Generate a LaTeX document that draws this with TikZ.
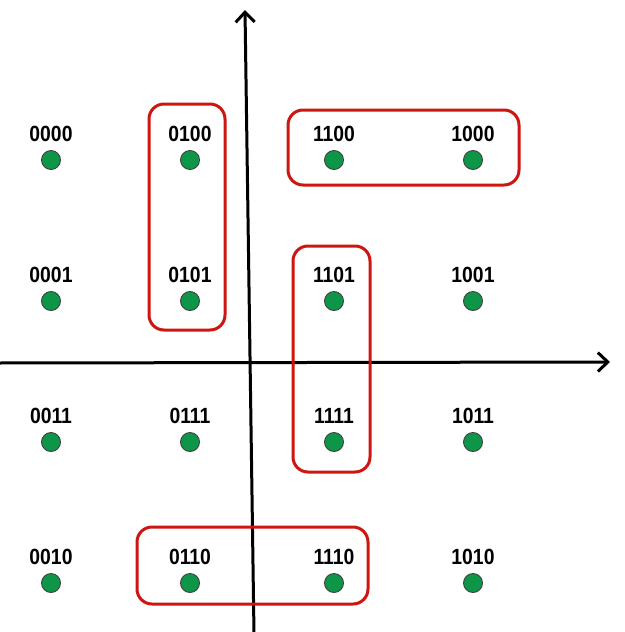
\documentclass[tikz,border=0pt]{standalone}
\usepackage{fontspec}
\setmainfont{Liberation Sans}
\usetikzlibrary{arrows.meta}
\definecolor{dotgreen}{RGB}{14,150,72}
\definecolor{boxred}{RGB}{205,22,18}
\newcommand{\lbltext}[1]{\scalebox{0.88}[1]{#1}}
\tikzset{
  pt/.style={circle,draw=black!75,line width=0.9pt,fill=dotgreen,minimum size=19pt,inner sep=0pt},
  lbl/.style={font=\fontsize{22}{22}\selectfont\bfseries,inner sep=0pt,anchor=base},
  axis/.style={line width=3pt,-{Straight Barb[length=10pt,width=19pt,line width=3pt]}},
  grp/.style={draw=boxred,line width=3pt,rounded corners=15pt}
}
\begin{document}
\begin{tikzpicture}[x=1pt,y=-1pt]
\useasboundingbox (0,0) rectangle (624,632);
% axes
\coordinate (yb) at (254,634);
\coordinate (yt) at (245,10);
\coordinate (xl) at (-2,363);
\coordinate (xr) at (610,362);
\draw[axis] (yb) -- (yt);
\draw[axis] (xl) -- (xr);
% points
\foreach \cx/\col in {51/a,190/b,334/c,473/d}{
  \foreach \cy/\row in {160/1,301/2,442/3,583/4}{
    \node[pt] (p\col\row) at (\cx,\cy) {};
  }
}
\foreach \n/\t in {a1/0000,b1/0100,c1/1100,d1/1000,
                   a2/0001,b2/0101,c2/1101,d2/1001,
                   a3/0011,b3/0111,c3/1111,d3/1011,
                   a4/0010,b4/0110,c4/1110,d4/1010}{
  \node[lbl] (l\n) at ([yshift=19pt]p\n.center) {\lbltext{\t}};
}
% groups
\draw[grp] (149,104) rectangle (225,330);
\draw[grp] (288,110) rectangle (519,185);
\draw[grp] (293,246) rectangle (370,472);
\draw[grp] (137,527) rectangle (368,604);
\end{tikzpicture}
\end{document}
